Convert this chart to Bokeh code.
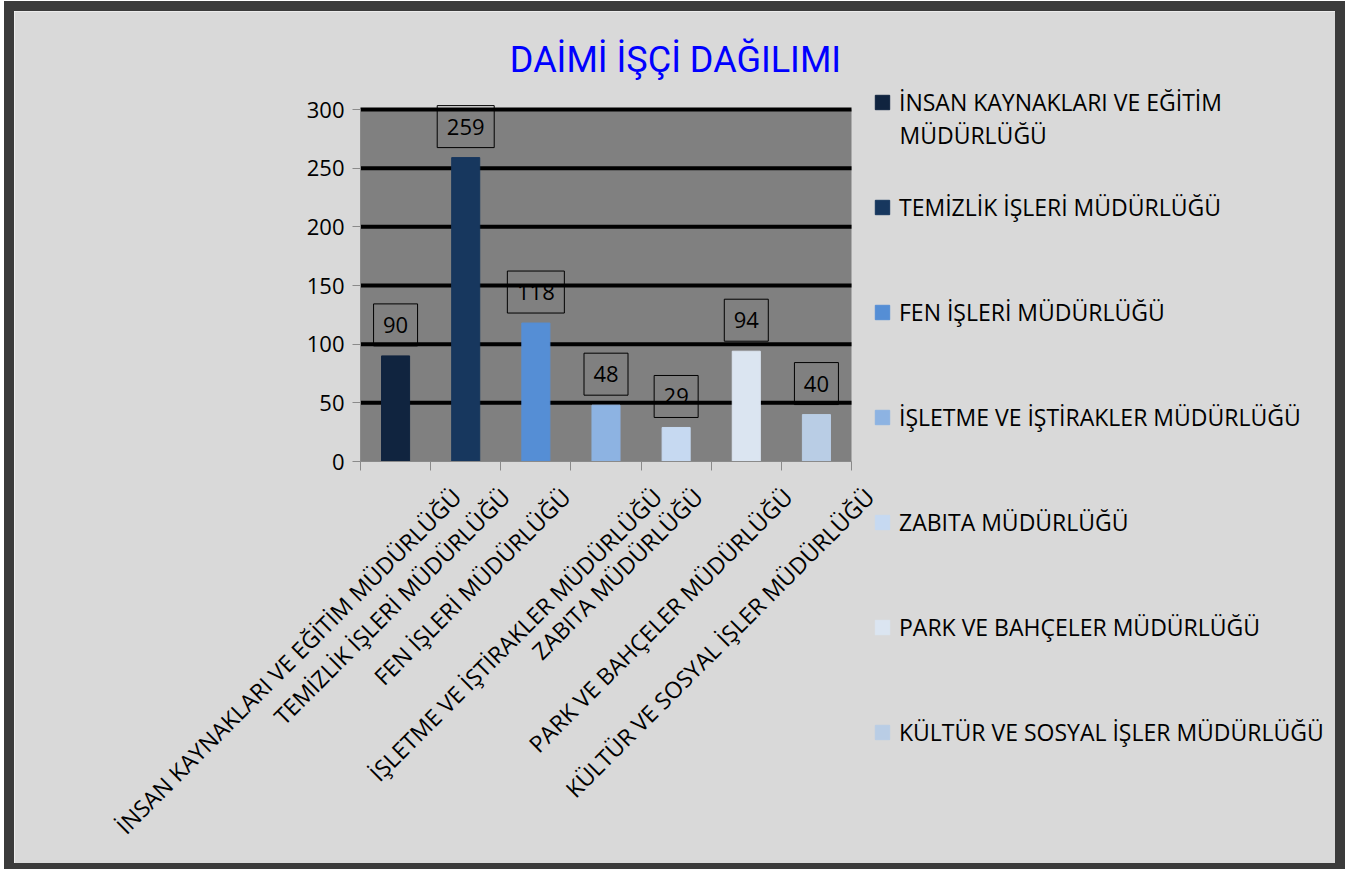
import math
from bokeh.plotting import figure
from bokeh.models import (ColumnDataSource, Range1d, FixedTicker, LinearAxis,
                          Legend, LegendItem, Label)
from bokeh.core.properties import value
from bokeh.embed import file_html
from bokeh.resources import INLINE

# ---- data ----
title_text = "DAİMİ İŞÇİ DAĞILIMI"
categories = [
    "İNSAN KAYNAKLARI VE EĞİTİM MÜDÜRLÜĞÜ",
    "TEMİZLİK İŞLERİ MÜDÜRLÜĞÜ",
    "FEN İŞLERİ MÜDÜRLÜĞÜ",
    "İŞLETME VE İŞTİRAKLER MÜDÜRLÜĞÜ",
    "ZABITA MÜDÜRLÜĞÜ",
    "PARK VE BAHÇELER MÜDÜRLÜĞÜ",
    "KÜLTÜR VE SOSYAL İŞLER MÜDÜRLÜĞÜ",
]
legend_first_lines = [
    "İNSAN KAYNAKLARI VE EĞİTİM",
    "TEMİZLİK İŞLERİ MÜDÜRLÜĞÜ",
    "FEN İŞLERİ MÜDÜRLÜĞÜ",
    "İŞLETME VE İŞTİRAKLER MÜDÜRLÜĞÜ",
    "ZABITA MÜDÜRLÜĞÜ",
    "PARK VE BAHÇELER MÜDÜRLÜĞÜ",
    "KÜLTÜR VE SOSYAL İŞLER MÜDÜRLÜĞÜ",
]
legend_wrap = "MÜDÜRLÜĞÜ"   # second line of the first legend entry
values = [90, 259, 118, 48, 29, 94, 40]
colors = ["#10243f", "#17375e", "#558ed5", "#8db3e2", "#c6d9f1", "#dbe5f1", "#b9cde5"]
y_ticks = [0, 50, 100, 150, 200, 250, 300]

# ---- layout geometry (page pixels) ----
FONT = "Open Sans"
n = len(categories)
BORDER_X, BORDER_TOP, BORDER_BOTTOM = 10, 10, 6
CANVAS_L, CANVAS_T, CANVAS_W, CANVAS_H = 14, 11, 1321, 852
PLOT_L, PLOT_R, PLOT_T, PLOT_B = 360, 851, 109, 461      # grey plotting area
FRAME_L = CANVAS_L
FRAME_T = CANVAS_T
FRAME_R = CANVAS_L + CANVAS_W + 2 * BORDER_X             # bokeh lays out on the bordered size
FRAME_B = CANVAS_T + CANVAS_H + BORDER_TOP + BORDER_BOTTOM
sx = (PLOT_R - PLOT_L) / n                 # px per category slot
sy = (PLOT_B - PLOT_T) / y_ticks[-1]       # px per unit

def px_x(px):
    return (px - PLOT_L) / sx

def px_y(py):
    return (PLOT_B - py) / sy

centres = [i + 0.5 for i in range(n)]
# rotated names end slightly right of their slot centre (longer names more so)
label_pos = [round(c + (1.95 * len(name) - 9) / sx, 3) for c, name in zip(centres, categories)]

src = ColumnDataSource(dict(
    x=centres,
    val=values,
    txt=[str(v) for v in values],
    color=colors,
    box_y=[v + 31 / sy for v in values],
    box_w=[18 + 13 * len(str(v)) for v in values],
))

p = figure(
    width=CANVAS_W, height=CANVAS_H,
    x_range=Range1d(px_x(FRAME_L), px_x(FRAME_R)),
    y_range=Range1d(px_y(FRAME_B), px_y(FRAME_T)),
    x_axis_location=None, y_axis_location=None,
    output_backend="svg", toolbar_location=None,
    min_border_left=0, min_border_right=0, min_border_top=0, min_border_bottom=0,
    background_fill_color="#d9d9d9", border_fill_color="#d9d9d9",
    outline_line_color=None,
)
p.styles = {"border": f"{BORDER_X}px solid #3b3b3b",
            "border-top-width": f"{BORDER_TOP}px",
            "border-bottom-width": f"{BORDER_BOTTOM}px",
            "box-sizing": "content-box", "margin-left": "4px", "margin-top": "1px"}
p.xgrid.visible = False
p.ygrid.visible = False

# title
p.add_layout(Label(x=px_x(675), y=px_y(59), text=title_text, text_align="center",
                   text_baseline="alphabetic", text_font="Roboto", text_font_size="36px",
                   text_color="#0000ff"))

# grey plotting area and black grid lines
p.quad(left=[0], right=[n], bottom=[y_ticks[0]], top=[y_ticks[-1]],
       fill_color="#808080", line_color=None)
p.segment(x0=[0] * (len(y_ticks) - 1), x1=[n] * (len(y_ticks) - 1),
          y0=y_ticks[1:], y1=y_ticks[1:], line_color="black", line_width=4)

# y axis at x=0
yax = LinearAxis(fixed_location=0, bounds=(y_ticks[0], y_ticks[-1]),
                 ticker=FixedTicker(ticks=y_ticks),
                 axis_line_color="#8a8a8a", major_tick_line_color="#8a8a8a",
                 major_tick_out=8, major_tick_in=0, minor_tick_line_color=None,
                 major_label_text_font=FONT, major_label_text_font_size="22px",
                 major_label_text_color="black", major_label_standoff=8)
p.add_layout(yax, "left")

# x axis at y=0: boundary ticks (minor) + rotated category names
xax = LinearAxis(fixed_location=0, bounds=(0, n),
                 ticker=FixedTicker(ticks=label_pos, minor_ticks=list(range(n + 1))),
                 major_label_overrides={pos: name for pos, name in zip(label_pos, categories)},
                 major_label_orientation=math.pi / 4,
                 major_label_text_font=FONT, major_label_text_font_size="23px",
                 major_label_text_color="black", major_label_standoff=22,
                 axis_line_color="#8a8a8a", major_tick_line_color=None,
                 major_tick_out=0, major_tick_in=0,
                 minor_tick_line_color="#8a8a8a", minor_tick_out=9, minor_tick_in=0)
p.add_layout(xax, "below")

bars = p.vbar(x="x", top="val", width=0.4, color="color", source=src)

# value labels in boxes
p.rect(x="x", y="box_y", width="box_w", height=42, width_units="screen",
       height_units="screen", fill_color=None, line_color="black", line_width=1,
       source=src)
p.text(x="x", y="box_y", text="txt", text_align="center", text_baseline="middle",
       text_font=value(FONT), text_font_size="22px", text_color="black", source=src)

# legend
legend = Legend(
    items=[LegendItem(label=legend_first_lines[i], renderers=[bars], index=i)
           for i in range(n)],
    location=(873 - FRAME_L, FRAME_B - 748), orientation="vertical",
    glyph_width=18, glyph_height=18, label_standoff=8, label_height=30,
    spacing=73, padding=0, margin=0, border_line_color=None,
    background_fill_alpha=0,
    label_text_font=FONT, label_text_font_size="23px", label_text_color="black",
)
p.add_layout(legend)
p.add_layout(Label(x=px_x(899), y=px_y(134), text=legend_wrap, text_align="left",
                   text_baseline="middle", text_font=FONT, text_font_size="23px",
                   text_color="black"))

open("out.html", "w").write(file_html(p, INLINE))
